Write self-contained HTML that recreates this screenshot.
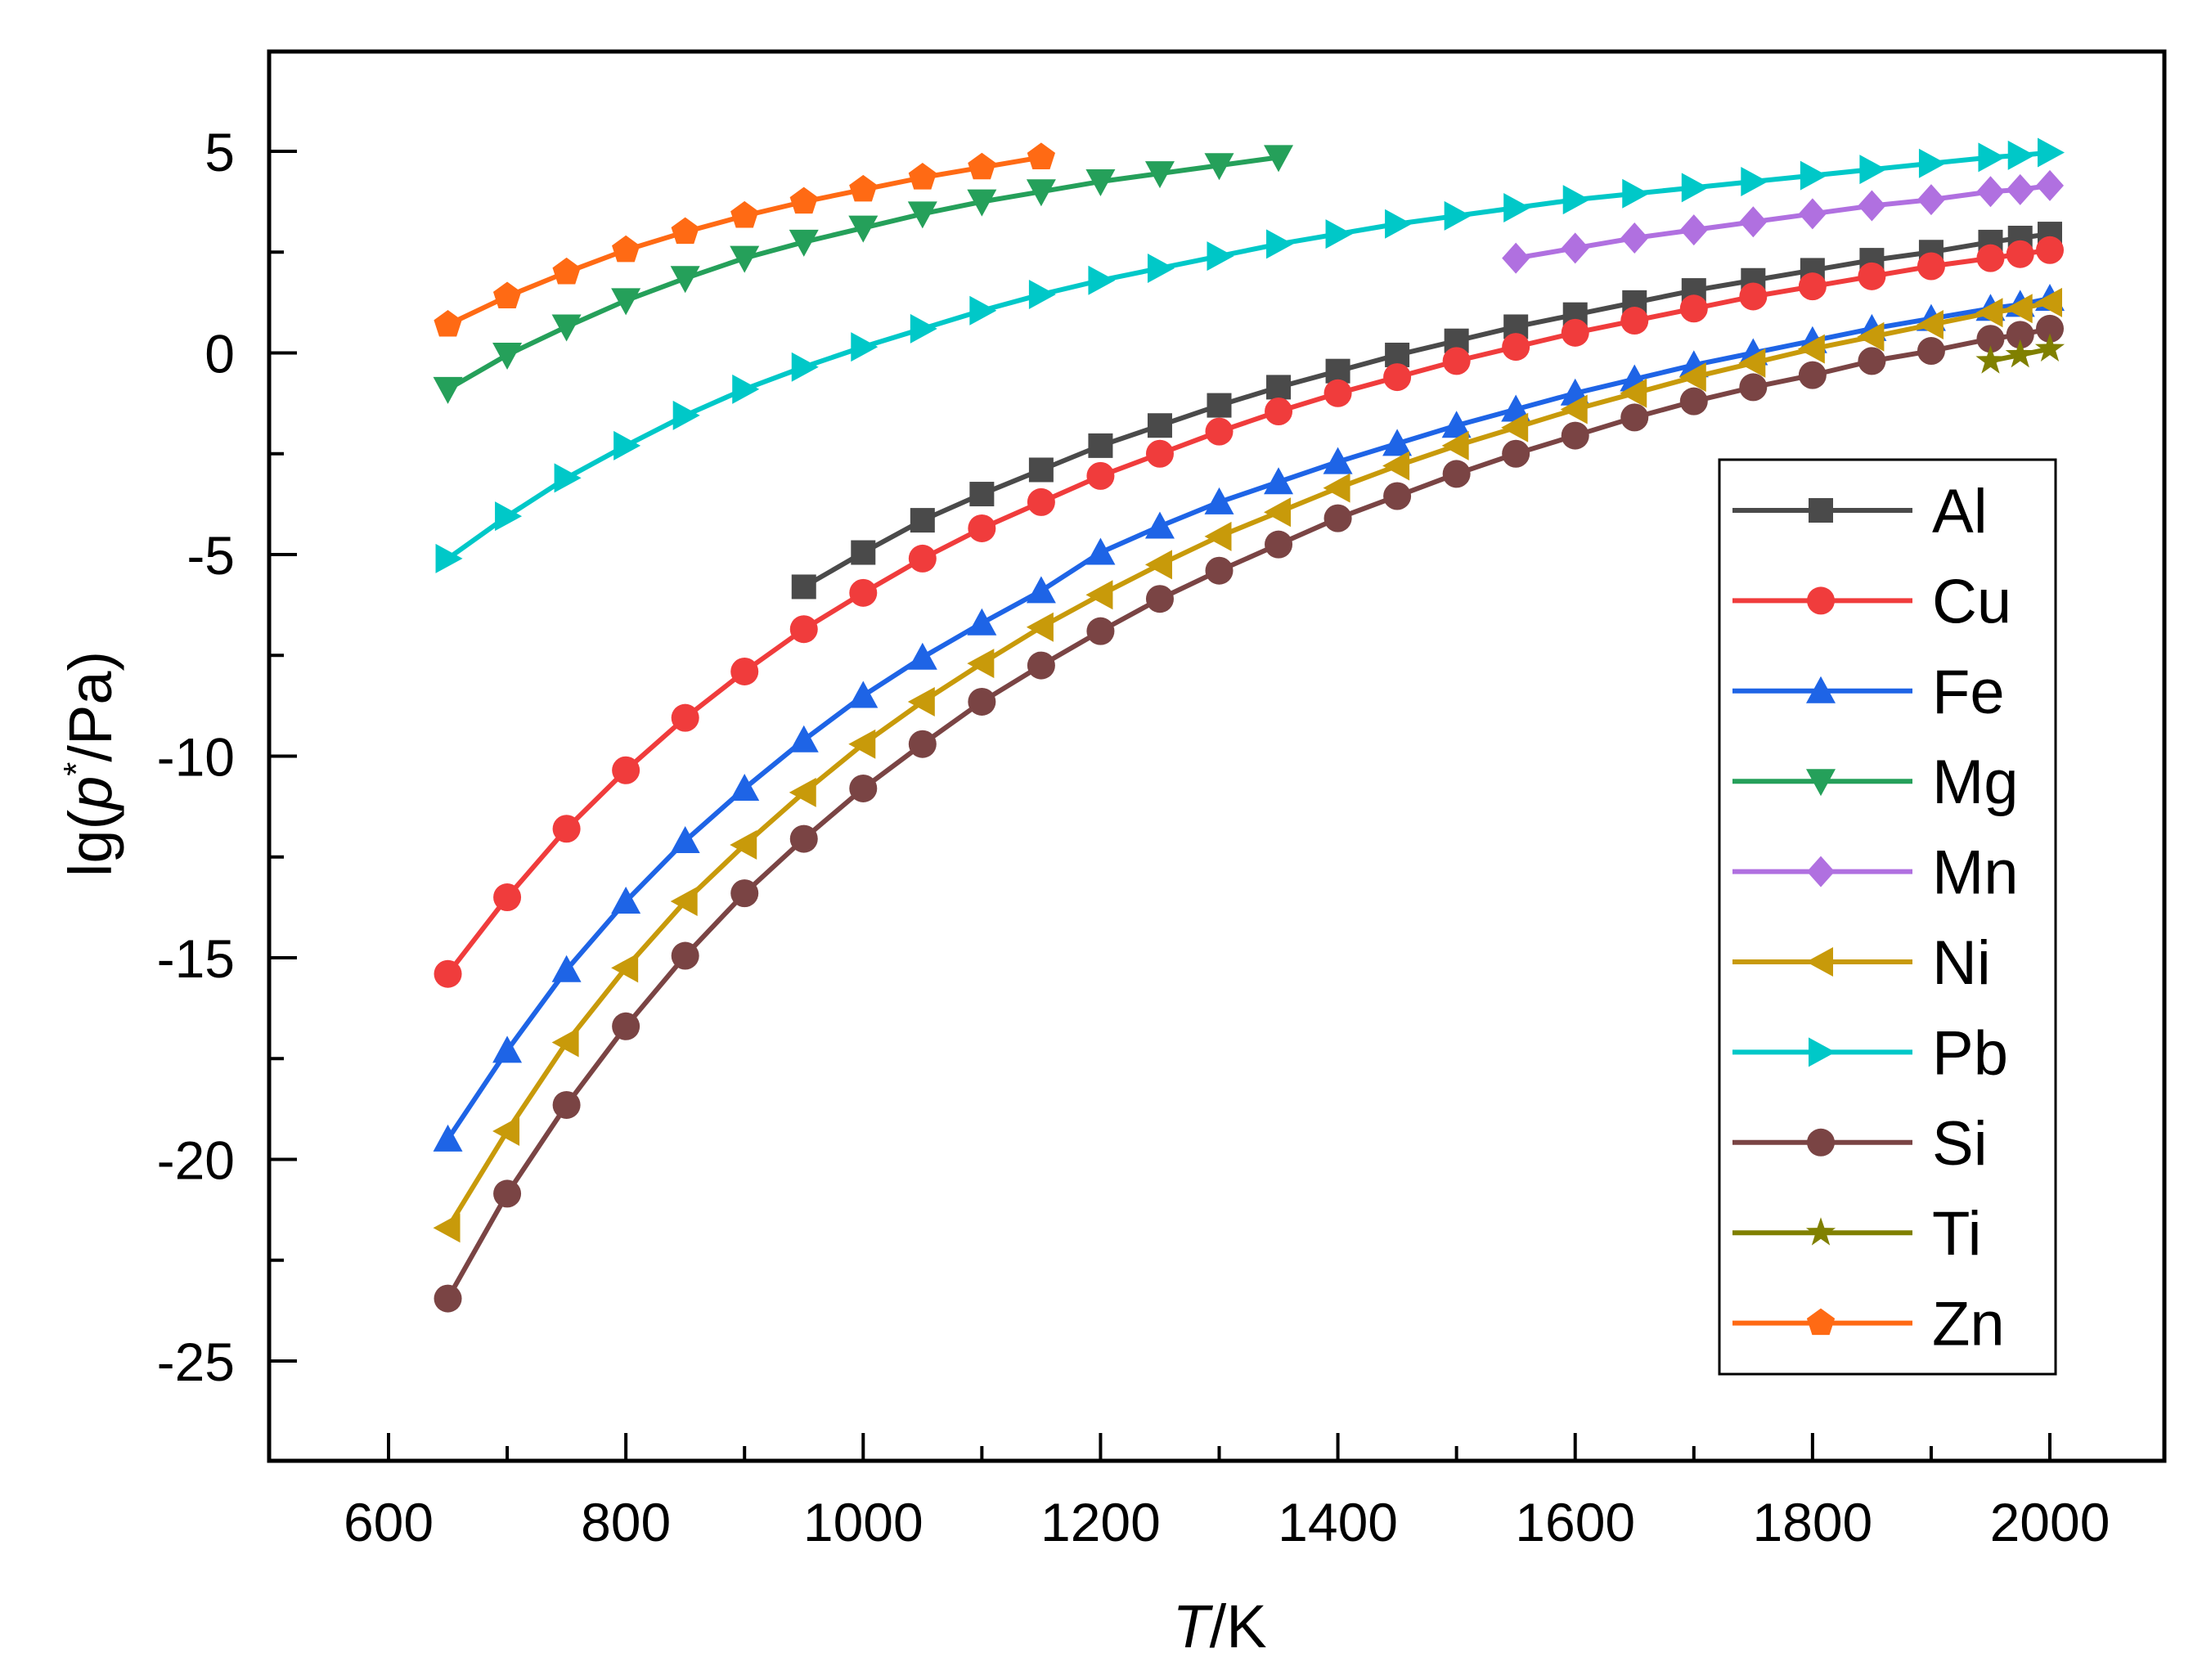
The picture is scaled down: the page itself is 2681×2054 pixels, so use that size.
<!DOCTYPE html>
<html><head><meta charset="utf-8"><style>
html,body{margin:0;padding:0;background:#fff;}
svg{display:block;font-family:"Liberation Sans",Arial,sans-serif;}
</style></head><body>
<svg id="chart" width="2681" height="2054" viewBox="0 0 2681 2054" xmlns="http://www.w3.org/2000/svg">
<rect x="0" y="0" width="2681" height="2054" fill="#fff"/>
<g id="plot"></g>
</svg>
<script>
const xTicks=[600,800,1000,1200,1400,1600,1800,2000];
const yTicks=[5,0,-5,-10,-15,-20,-25];
const tFull=[650,700,750,800,850,900,950,1000,1050,1100,1150,1200,1250,1300,1350,1400,1450,1500,1550,1600,1650,1700,1750,1800,1850,1900,1950,1975,2000];
const seriesNames=["Al","Cu","Fe","Mg","Mn","Ni","Pb","Si","Ti","Zn"];
const seriesColors=["#4a4a4a","#f03c3c","#1e64e6","#25a05a","#b070e0","#c89a0a","#00c8c8","#7a4444","#808000","#ff6a14"];
const seriesMarkers=["square","circle","up","down","diamond","left","right","hex","star","pent"];
const alT=tFull.slice(6);
const alV=[-5.8,-4.95,-4.15,-3.5,-2.9,-2.3,-1.8,-1.3,-0.85,-0.45,-0.05,0.3,0.65,0.95,1.25,1.55,1.8,2.05,2.3,2.5,2.75,2.85,2.95];
const cuV=[-15.4,-13.5,-11.8,-10.35,-9.05,-7.9,-6.85,-5.95,-5.1,-4.35,-3.7,-3.05,-2.5,-1.95,-1.45,-1.0,-0.6,-0.2,0.15,0.5,0.8,1.1,1.4,1.65,1.9,2.15,2.35,2.45,2.55];
const feV=[-19.5,-17.3,-15.3,-13.6,-12.1,-10.8,-9.6,-8.5,-7.55,-6.7,-5.9,-4.95,-4.3,-3.7,-3.2,-2.7,-2.25,-1.8,-1.4,-1.0,-0.65,-0.3,0.0,0.3,0.6,0.85,1.1,1.2,1.35];
const mgT=tFull.slice(0,15);
const mgV=[-0.9,-0.05,0.65,1.3,1.85,2.35,2.75,3.1,3.45,3.75,4.0,4.25,4.45,4.65,4.85];
const mnT=tFull.slice(18);
const mnV=[2.35,2.6,2.85,3.05,3.25,3.45,3.65,3.8,4.0,4.05,4.15];
const niV=[-21.7,-19.3,-17.1,-15.25,-13.6,-12.2,-10.9,-9.7,-8.65,-7.7,-6.8,-6.0,-5.25,-4.55,-3.95,-3.35,-2.8,-2.3,-1.85,-1.4,-1.0,-0.6,-0.25,0.1,0.4,0.7,1.0,1.1,1.25];
const pbV=[-5.1,-4.05,-3.1,-2.3,-1.55,-0.9,-0.35,0.15,0.6,1.05,1.45,1.8,2.1,2.4,2.7,2.95,3.2,3.4,3.6,3.8,3.95,4.1,4.25,4.4,4.55,4.7,4.85,4.9,4.97];
const siV=[-23.45,-20.85,-18.65,-16.7,-14.95,-13.4,-12.05,-10.8,-9.7,-8.65,-7.75,-6.9,-6.1,-5.4,-4.75,-4.1,-3.55,-3.0,-2.5,-2.05,-1.6,-1.2,-0.85,-0.55,-0.2,0.05,0.35,0.45,0.6];
const tiT=[1950,1975,2000];
const tiV=[-0.2,-0.05,0.1];
const znT=tFull.slice(0,11);
const znV=[0.7,1.4,2.0,2.55,3.0,3.4,3.75,4.05,4.35,4.6,4.85];
const seriesT=[alT,tFull,tFull,mgT,mnT,tFull,tFull,tFull,tiT,znT];
const seriesV=[alV,cuV,feV,mgV,mnV,niV,pbV,siV,tiV,znV];

const NS="http://www.w3.org/2000/svg";
const L=329,R=2646,T=63,B=1786;
function xs(v){return 475+(v-600)*(2506-475)/1400;}
function ys(v){return 185+(5-v)*(1664-185)/30;}
const g=document.getElementById('plot');
function mk(tag,attrs,parent){const e=document.createElementNS(NS,tag);for(const k in attrs)e.setAttribute(k,attrs[k]);(parent||g).appendChild(e);return e;}
function marker(type,x,y,color,parent){
  const s=15;let e;
  if(type==="square")e=mk('rect',{x:x-s,y:y-s,width:2*s,height:2*s,fill:color},parent);
  else if(type==="circle"||type==="hex")e=mk('circle',{cx:x,cy:y,r:s+2,fill:color},parent);
  else{
    let pts;
    if(type==="up")pts=[[0,-s-3],[s+3,s],[-s-3,s]];
    else if(type==="down")pts=[[0,s+3],[s+3,-s],[-s-3,-s]];
    else if(type==="left")pts=[[-s-3,0],[s,-s-3],[s,s+3]];
    else if(type==="right")pts=[[s+3,0],[-s,-s-3],[-s,s+3]];
    else if(type==="diamond")pts=[[0,-s-4],[s+2,0],[0,s+4],[-s-2,0]];
    else if(type==="pent"){pts=[];for(let i=0;i<5;i++){const a=-Math.PI/2+i*2*Math.PI/5;pts.push([Math.cos(a)*(s+3),Math.sin(a)*(s+3)]);}}
    else {pts=[];for(let i=0;i<10;i++){const a=-Math.PI/2+i*Math.PI/5;const r=i%2?s*0.5:s+4;pts.push([Math.cos(a)*r,Math.sin(a)*r]);}}
    e=mk('polygon',{points:pts.map(p=>(x+p[0])+','+(y+p[1])).join(' '),fill:color},parent);
  }
  return e;
}
const frame=mk('rect',{x:L,y:T,width:R-L,height:B-T,fill:'none',stroke:'#000','stroke-width':5});


for(let v=600;v<=2000;v+=100){
  const major=v%200===0;const x=xs(v);
  const t=mk('line',{x1:x,x2:x,y1:B,y2:B-(major?34:18),stroke:'#000','stroke-width':4});
  
  
}
xTicks.forEach(v=>{
  const t=mk('text',{x:xs(v),y:1884,'text-anchor':'middle','font-size':66,fill:'#000'});
  t.textContent=v;
  
  
});
for(let v=-27.5;v<=7.5;v+=2.5){
  const y=ys(v);if(y<T||y>B)continue;
  const major=Math.abs(v%5)<1e-9;
  const t=mk('line',{x1:L,x2:L+(major?34:18),y1:y,y2:y,stroke:'#000','stroke-width':4});
  
  
}
yTicks.forEach(v=>{
  const t=mk('text',{x:287,y:ys(v)+24,'text-anchor':'end','font-size':66,fill:'#000'});
  t.textContent=v;
  
  
});
const xt=mk('text',{x:1491,y:2014,'text-anchor':'middle','font-size':74,fill:'#000'});
xt.innerHTML='<tspan font-style="italic">T</tspan>/K';


const yt=mk('text',{x:0,y:0,'text-anchor':'middle','font-size':74,fill:'#000',transform:'translate(136,934) rotate(-90)'});
yt.innerHTML='lg(<tspan font-style="italic">p</tspan><tspan font-size="44" dy="-28">*</tspan><tspan dy="28">/Pa)</tspan>';


seriesNames.forEach((name,i)=>{
  const sg=mk('g',{});
  
  
  const tt=seriesT[i],vv=seriesV[i];
  const pts=tt.map((t,j)=>xs(t)+','+ys(vv[j])).join(' ');
  const pl=mk('polyline',{points:pts,fill:'none',stroke:seriesColors[i],'stroke-width':6},sg);
  
  
  tt.forEach((t,j)=>{
    const m=marker(seriesMarkers[i],xs(t),ys(vv[j]),seriesColors[i],sg);
    
    
  });
});
const lg=mk('g',{});


mk('rect',{x:2102,y:562,width:411,height:1118,fill:'#fff',stroke:'#000','stroke-width':3},lg);
seriesNames.forEach((name,i)=>{
  const y=624+i*110.4;
  const eg=mk('g',{},lg);
  
  
  mk('line',{x1:2118,x2:2338,y1:y,y2:y,stroke:seriesColors[i],'stroke-width':6},eg);
  marker(seriesMarkers[i],2226,y,seriesColors[i],eg);
  const t=mk('text',{x:2362,y:y+27,'font-size':76,fill:'#000'},eg);
  t.textContent=name;
});
</script>
</body></html>
